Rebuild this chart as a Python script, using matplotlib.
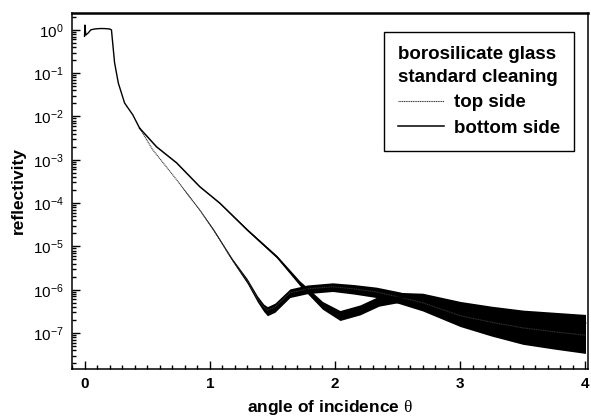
import numpy as np
import matplotlib
matplotlib.use("Agg")
import matplotlib.pyplot as plt
from matplotlib.ticker import MultipleLocator, LogLocator, NullFormatter
from matplotlib.lines import Line2D

plt.rcParams['font.family'] = ['Liberation Sans', 'DejaVu Sans']
plt.rcParams['mathtext.fontset'] = 'custom'
plt.rcParams['mathtext.rm'] = 'Liberation Serif'
plt.rcParams['axes.unicode_minus'] = False

# total reflection plateau, shared by both sides
theta_common = [0.000, 0.003, 0.010, 0.030, 0.050, 0.080, 0.120, 0.160, 0.200,
                0.215, 0.240, 0.270, 0.320, 0.385, 0.440]
logR_common = [-0.15, 0.11, -0.12, -0.07, 0.00, 0.02, 0.03, 0.03, 0.02,
               0.00, -0.76, -1.23, -1.69, -1.96, -2.27]

# top side (steeper fall, Kiessig minimum near 1.45 deg)
theta_top = [0.44, 0.545, 0.735, 0.816, 0.92, 1.03, 1.18, 1.30, 1.38, 1.43, 1.46,
             1.52, 1.64, 1.78, 1.98, 2.15, 2.33, 2.50, 2.70, 3.00, 3.25, 3.50, 3.75, 4.00]
logR_top = [-2.27, -2.77, -3.46, -3.77, -4.16, -4.62, -5.31, -5.80, -6.20, -6.40, -6.47,
            -6.40, -6.07, -5.98, -5.93, -5.98, -6.05, -6.16, -6.30, -6.60, -6.75, -6.88, -6.97, -7.05]
up_top = [0.0, 0.0, 0.0, 0.01, 0.01, 0.02, 0.03, 0.05, 0.06, 0.07, 0.08,
          0.09, 0.09, 0.09, 0.09, 0.10, 0.11, 0.12, 0.13, 0.15, 0.17, 0.19, 0.21, 0.23]
dn_top = [0.0, 0.0, 0.0, 0.01, 0.01, 0.02, 0.03, 0.06, 0.08, 0.10, 0.13,
          0.12, 0.11, 0.11, 0.11, 0.12, 0.13, 0.15, 0.19, 0.25, 0.32, 0.38, 0.40, 0.42]

# bottom side (shallower fall, minimum near 2.05 deg)
theta_bot = [0.44, 0.575, 0.735, 0.92, 1.08, 1.30, 1.536, 1.72, 1.76, 1.90, 2.04,
             2.20, 2.35, 2.50, 2.70, 3.00, 3.25, 3.50, 3.75, 4.00]
logR_bot = [-2.27, -2.70, -3.07, -3.62, -4.00, -4.62, -5.24, -5.85, -5.96, -6.35, -6.58,
            -6.45, -6.25, -6.17, -6.20, -6.40, -6.52, -6.63, -6.70, -6.77]
up_bot = [0.0, 0.0, 0.0, 0.0, 0.01, 0.02, 0.03, 0.05, 0.06, 0.08, 0.10,
          0.10, 0.10, 0.11, 0.12, 0.13, 0.14, 0.16, 0.18, 0.20]
dn_bot = [0.0, 0.0, 0.0, 0.0, 0.01, 0.02, 0.03, 0.06, 0.07, 0.10, 0.13,
          0.13, 0.13, 0.13, 0.15, 0.18, 0.23, 0.28, 0.31, 0.34]

fig = plt.figure(figsize=(5.91, 4.18), dpi=100)
ax = fig.add_axes([72/591, 1-369/418, (588-72)/591, (369-13)/418])

xc = np.array(theta_common)
yc = 10**np.array(logR_common)
ax.plot(xc, yc, color='black', lw=1.0)

for th, lr, up, dn, kw in [
    (theta_top, logR_top, up_top, dn_top, dict(color='#333333', lw=0.8, ls=(0, (1, 0.6)))),
    (theta_bot, logR_bot, up_bot, dn_bot, dict(color='black', lw=1.1, ls='-')),
]:
    th = np.array(th)
    lr = np.array(lr)
    ax.fill_between(th, 10**(lr - np.array(dn)), 10**(lr + np.array(up)),
                    color='black', lw=0)
    ax.plot(th, 10**lr, **kw)

ax.set_yscale('log')
ax.set_xlim(-0.1, 4.02)
ax.set_ylim(1.48e-8, 2.45)

ax.xaxis.set_major_locator(MultipleLocator(1))
ax.xaxis.set_minor_locator(MultipleLocator(0.1))
ax.yaxis.set_major_locator(LogLocator(base=10, numticks=20))
ax.yaxis.set_minor_locator(LogLocator(base=10, subs=np.arange(2, 10), numticks=20))
ax.yaxis.set_minor_formatter(NullFormatter())
ax.tick_params(which='both', direction='in', top=False, right=False, width=1.0)
ax.tick_params(which='major', length=6, labelsize=11, pad=6)
ax.tick_params(which='minor', length=3)
for lab in ax.get_xticklabels():
    lab.set_fontweight('bold')

for side in ['left', 'bottom', 'right']:
    ax.spines[side].set_linewidth(1.1)
ax.spines['top'].set_linewidth(1.8)

ax.set_xlabel(r'angle of incidence $\mathrm{\theta}$', fontsize=12.5, fontweight='bold', labelpad=5)
ax.set_ylabel('reflectivity', fontsize=12.5, fontweight='bold', labelpad=5)

handles = [
    Line2D([], [], color='#333333', lw=0.8, ls=(0, (1, 0.6))),
    Line2D([], [], color='black', lw=1.1),
]
leg = ax.legend(handles, ['top side', 'bottom side'],
                title='borosilicate glass\nstandard cleaning',
                loc='upper right', bbox_to_anchor=(574/591, 1-32/418),
                bbox_transform=fig.transFigure, borderaxespad=0,
                prop={'weight': 'bold', 'size': 13.5},
                title_fontproperties={'weight': 'bold', 'size': 13.5},
                handlelength=2.5, handletextpad=0.5, labelspacing=0.45,
                borderpad=0.75, fancybox=False,
                edgecolor='black', framealpha=1)
leg.get_frame().set_linewidth(1.0)
leg.get_title().set_linespacing(1.45)
leg._legend_box.align = 'left'

fig.savefig('out.png', dpi=100)
